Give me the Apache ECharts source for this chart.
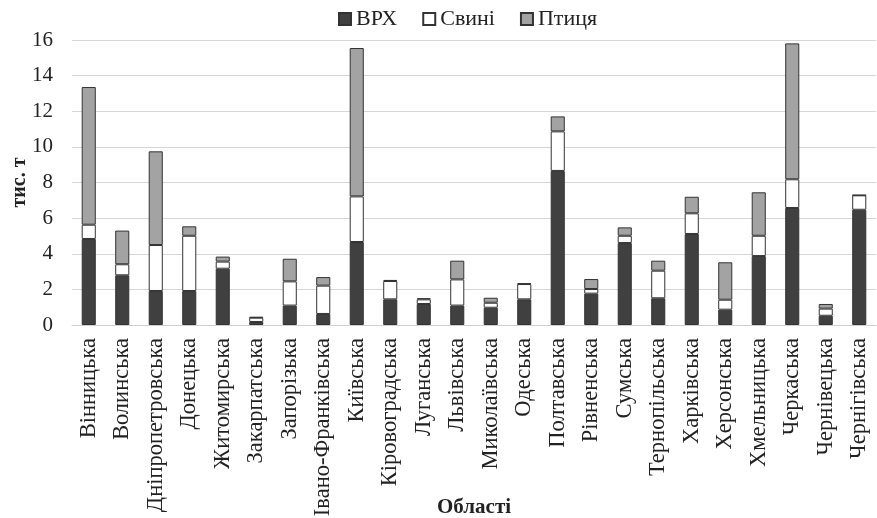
<!DOCTYPE html>
<html>
<head>
<meta charset="utf-8">
<script src="https://cdn.jsdelivr.net/npm/echarts@6/dist/echarts.min.js"></script>
<style>
  html, body { margin: 0; padding: 0; background: #fff; }
  #chart { width: 877px; height: 518px; }
</style>
</head>
<body>
<div id="chart"></div>
<script>
// Regions of Ukraine
const regions = [
  'Вінницька', 'Волинська', 'Дніпропетровська', 'Донецька', 'Житомирська',
  'Закарпатська', 'Запорізька', 'Івано-Франківська', 'Київська', 'Кіровоградська',
  'Луганська', 'Львівська', 'Миколаївська', 'Одеська', 'Полтавська',
  'Рівненська', 'Сумська', 'Тернопільська', 'Харківська', 'Херсонська',
  'Хмельницька', 'Черкаська', 'Чернівецька', 'Чернігівська'
];

// Production, thousand tonnes
const cattle = [4.83, 2.79, 1.91, 1.91, 3.16, 0.17, 1.09, 0.62, 4.66, 1.44,
                1.18, 1.09, 0.97, 1.44, 8.65, 1.76, 4.60, 1.50, 5.11, 0.86,
                3.87, 6.57, 0.52, 6.47];
const pigs   = [0.80, 0.62, 2.58, 3.10, 0.40, 0.24, 1.36, 1.59, 2.56, 1.03,
                0.26, 1.47, 0.28, 0.86, 2.22, 0.26, 0.41, 1.55, 1.16, 0.56,
                1.14, 1.61, 0.40, 0.81];
const poultry= [7.73, 1.89, 5.26, 0.53, 0.28, 0.04, 1.27, 0.48, 8.33, 0.06,
                0.06, 1.05, 0.28, 0.04, 0.84, 0.56, 0.47, 0.56, 0.93, 2.10,
                2.44, 7.63, 0.26, 0.02];

const yTicks = { min: 0, max: 16, step: 2 };

const seriesNames = ['ВРХ', 'Свині', 'Птиця'];
const seriesColors = ['#404040', '#ffffff', '#a3a3a3'];
const seriesData = [cattle, pigs, poultry];

const font = '"Liberation Serif", "Times New Roman", serif';

const chart = echarts.init(document.getElementById('chart'), null, { renderer: 'canvas' });

chart.setOption({
  animation: false,
  textStyle: { fontFamily: font },
  legend: {
    top: 3,
    left: 333,
    icon: 'rect',
    itemWidth: 12,
    itemHeight: 12,
    itemGap: 25,
    data: seriesNames,
    textStyle: { fontFamily: font, fontSize: 22, color: '#222' }
  },
  grid: { left: 72, right: 1, top: 40, bottom: 193, outerBoundsMode: 'none', containLabel: false },
  xAxis: {
    type: 'category',
    data: regions,
    name: 'Області',
    nameLocation: 'middle',
    nameGap: 172,
    nameMoveOverlap: false,
    nameTextStyle: { fontFamily: font, fontSize: 21, fontWeight: 'bold', color: '#222' },
    axisTick: { show: false },
    axisLine: { lineStyle: { color: '#d0d0d0', width: 1 } },
    axisLabel: {
      rotate: 90,
      interval: 0,
      margin: 13,
      fontFamily: font,
      fontSize: 22.5,
      color: '#222'
    }
  },
  yAxis: {
    type: 'value',
    min: yTicks.min,
    max: yTicks.max,
    interval: yTicks.step,
    name: 'тис. т',
    nameLocation: 'middle',
    nameGap: 42,
    nameMoveOverlap: false,
    nameTextStyle: { fontFamily: font, fontSize: 20, fontWeight: 'bold', color: '#222' },
    axisLine: { show: false },
    axisTick: { show: false },
    axisLabel: { fontFamily: font, fontSize: 21, color: '#222', margin: 19 },
    splitLine: { lineStyle: { color: '#d6d6d6', width: 1 } }
  },
  series: seriesNames.map((name, i) => ({
    name: name,
    type: 'bar',
    stack: 'total',
    barWidth: '42%',
    data: seriesData[i],
    itemStyle: { color: seriesColors[i], borderColor: '#333', borderWidth: 1 }
  }))
});
</script>
</body>
</html>
